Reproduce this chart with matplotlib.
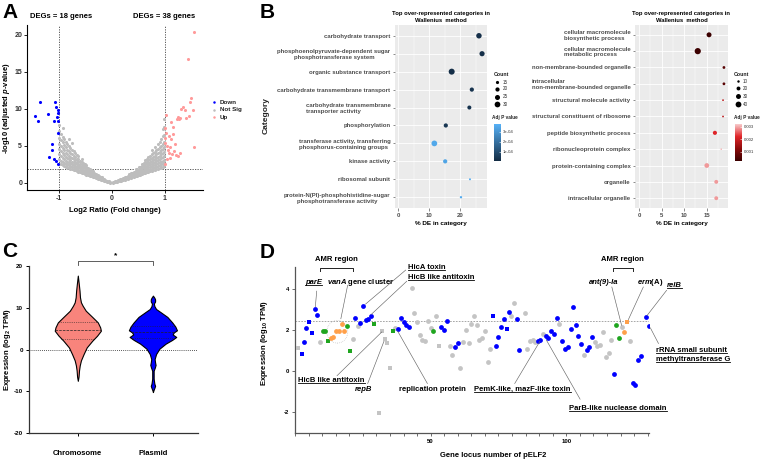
import numpy as np
import matplotlib.pyplot as plt
from matplotlib.colors import LinearSegmentedColormap, Normalize
from matplotlib.cm import ScalarMappable
from matplotlib.patches import Ellipse
from matplotlib.lines import Line2D

plt.rcParams['font.family'] = ['Liberation Sans', 'DejaVu Sans']
plt.rcParams['mathtext.fontset'] = 'custom'
plt.rcParams['mathtext.rm'] = 'Liberation Sans:bold'
plt.rcParams['mathtext.it'] = 'Liberation Sans:italic:bold'
plt.rcParams['mathtext.bf'] = 'Liberation Sans:bold'
plt.rcParams['axes.unicode_minus'] = False

# ---------------- panel A: volcano ----------------
down_x = [-1.36, -1.08, -1.20, -1.45, -1.40, -1.06, -1.01, -1.01, -1.10,
          -1.04, -1.01, -1.02, -1.12, -1.12, -1.19, -1.09, -1.06, -1.01]
down_y = [11.0, 11.0, 9.3, 9.0, 8.4, 10.2, 9.8, 9.5, 8.4,
          8.9, 8.4, 6.8, 5.3, 4.4, 3.5, 3.2, 3.0, 2.5]
up_x = [1.55, 1.44, 1.50, 1.48, 1.53, 1.35, 1.30, 1.38, 1.45, 1.40, 1.24, 1.26, 1.23,
        1.28, 1.02, 1.11, 1.16, 1.01, 1.03, 1.07, 1.12, 1.00, 1.05, 1.55, 1.09, 1.08,
        1.13, 1.18, 1.25, 1.21, 1.28, 1.10, 1.04, 1.00, 1.01, 1.06, 1.20, 1.15]
up_y = [20.4, 16.8, 11.5, 10.9, 9.8, 10.2, 10.0, 9.9, 9.0, 8.8, 8.9, 8.7, 8.6,
        8.8, 9.2, 8.3, 7.5, 7.4, 6.8, 6.4, 5.9, 5.4, 5.0, 4.8, 4.8, 4.1,
        3.9, 4.3, 3.7, 3.8, 4.1, 3.4, 3.2, 2.6, 6.1, 4.5, 5.2, 6.6]
# not significant genes, grouped by fold change column
gray_left = [
    (-0.99, [2.6, 3.2, 3.9, 4.6, 5.3, 6.1, 7.0, 7.9]),
    (-0.96, [2.5, 3.0, 3.6, 4.3, 5.0, 5.8, 6.6]),
    (-0.93, [2.4, 2.8, 3.4, 4.0, 4.7, 5.5, 6.2, 7.4]),
    (-0.90, [2.3, 2.7, 3.2, 3.8, 4.4, 5.1, 5.9]),
    (-0.87, [2.2, 2.6, 3.0, 3.5, 4.1, 4.8, 5.6]),
    (-0.84, [2.1, 2.5, 2.9, 3.4, 3.9, 4.5, 5.3]),
    (-0.81, [2.0, 2.4, 2.8, 3.2, 3.7, 4.3, 5.0, 6.0]),
    (-0.78, [1.9, 2.3, 2.7, 3.1, 3.5, 4.1, 4.7]),
    (-0.75, [1.85, 2.2, 2.5, 2.9, 3.4, 3.9, 4.5, 5.4]),
    (-0.72, [1.8, 2.1, 2.4, 2.8, 3.2, 3.7, 4.3]),
    (-0.69, [1.7, 2.0, 2.3, 2.7, 3.1, 3.5, 4.0]),
    (-0.66, [1.6, 1.9, 2.2, 2.5, 2.9, 3.3, 3.8]),
    (-0.63, [1.5, 1.8, 2.1, 2.4, 2.8, 3.2, 3.6]),
    (-0.60, [1.45, 1.7, 2.0, 2.3, 2.6, 3.0]),
    (-0.57, [1.35, 1.6, 1.9, 2.2, 2.5, 2.9, 3.3]),
    (-0.54, [1.3, 1.5, 1.8, 2.1, 2.4, 2.7]),
    (-0.51, [1.2, 1.45, 1.7, 2.0, 2.3, 2.6]),
    (-0.48, [1.1, 1.35, 1.6, 1.85, 2.1, 2.4]),
    (-0.45, [1.05, 1.25, 1.5, 1.75, 2.0]),
    (-0.42, [0.95, 1.15, 1.4, 1.65, 1.9]),
    (-0.39, [0.9, 1.1, 1.3, 1.5, 1.75]),
    (-0.36, [0.8, 1.0, 1.2, 1.4, 1.6]),
    (-0.33, [0.75, 0.9, 1.1, 1.3]),
    (-0.30, [0.65, 0.8, 1.0, 1.2]),
    (-0.27, [0.6, 0.75, 0.9, 1.05]),
    (-0.24, [0.5, 0.65, 0.8, 0.95]),
    (-0.21, [0.45, 0.55, 0.7, 0.85]),
    (-0.18, [0.35, 0.5, 0.6, 0.75]),
    (-0.15, [0.3, 0.4, 0.5]),
    (-0.12, [0.22, 0.32, 0.42]),
    (-0.09, [0.16, 0.24, 0.32]),
    (-0.06, [0.1, 0.16, 0.22]),
    (-0.03, [0.05, 0.1]),
]
gray_right = [
    (0.03, [0.05, 0.1]),
    (0.06, [0.1, 0.16, 0.22]),
    (0.09, [0.15, 0.22, 0.3]),
    (0.12, [0.2, 0.3, 0.4]),
    (0.15, [0.28, 0.38, 0.5]),
    (0.18, [0.33, 0.45, 0.6]),
    (0.21, [0.4, 0.52, 0.68]),
    (0.24, [0.46, 0.6, 0.78]),
    (0.27, [0.52, 0.68, 0.85]),
    (0.30, [0.6, 0.75, 0.95]),
    (0.33, [0.66, 0.82, 1.0, 1.2]),
    (0.36, [0.72, 0.9, 1.1, 1.3]),
    (0.39, [0.8, 0.98, 1.2, 1.4]),
    (0.42, [0.85, 1.05, 1.3, 1.5]),
    (0.45, [0.92, 1.12, 1.35, 1.6, 1.85]),
    (0.48, [1.0, 1.2, 1.45, 1.7, 1.95]),
    (0.51, [1.05, 1.3, 1.55, 1.8, 2.1]),
    (0.54, [1.12, 1.38, 1.65, 1.9, 2.2]),
    (0.57, [1.2, 1.45, 1.7, 2.0, 2.3, 2.6]),
    (0.60, [1.3, 1.55, 1.8, 2.1, 2.4, 2.7]),
    (0.63, [1.35, 1.6, 1.9, 2.2, 2.5, 2.8, 3.1]),
    (0.66, [1.42, 1.7, 2.0, 2.3, 2.6, 2.9, 3.3]),
    (0.69, [1.5, 1.8, 2.1, 2.4, 2.7, 3.1, 3.5]),
    (0.72, [1.6, 1.9, 2.2, 2.5, 2.9, 3.3, 3.7]),
    (0.75, [1.65, 1.95, 2.3, 2.6, 3.0, 3.4, 3.9, 4.4]),
    (0.78, [1.75, 2.05, 2.4, 2.75, 3.1, 3.5, 4.0]),
    (0.81, [1.8, 2.1, 2.45, 2.85, 3.25, 3.7, 4.2, 4.8]),
    (0.84, [1.9, 2.2, 2.55, 2.95, 3.4, 3.9, 4.4]),
    (0.87, [1.95, 2.3, 2.65, 3.05, 3.5, 4.0, 4.6, 5.3]),
    (0.90, [2.05, 2.4, 2.8, 3.2, 3.7, 4.2, 4.8, 5.6]),
    (0.93, [2.1, 2.5, 2.9, 3.35, 3.85, 4.4, 5.0, 6.0]),
    (0.96, [2.2, 2.6, 3.0, 3.5, 4.0, 4.6, 5.3, 6.4, 7.3]),
    (0.99, [2.3, 2.7, 3.1, 3.6, 4.2, 4.8, 5.6, 6.5, 7.6, 8.6]),
]
padj_cut = 1.85

# ---------------- panel B: GO enrichment ----------------
go_bac_terms = ["carbohydrate transport",
                "phosphoenolpyruvate-dependent sugar\nphosphotransferase system",
                "organic substance transport",
                "carbohydrate transmembrane transport",
                "carbohydrate transmembrane\ntransporter activity",
                "phosphorylation",
                "transferase activity, transferring\nphosphorus-containing groups",
                "kinase activity",
                "ribosomal subunit",
                "protein-N(PI)-phosphohistidine-sugar\nphosphotransferase activity"]
go_bac_pct = [26.1, 27.1, 17.3, 23.8, 23.0, 15.4, 11.7, 15.2, 23.2, 20.3]
go_bac_count = [28, 26, 32, 20, 19, 20, 30, 20, 11, 12]
go_bac_padj = [2e-5, 2e-5, 1.5e-5, 3e-5, 3e-5, 4e-5, 3.5e-4, 3.4e-4, 3.6e-4, 3.6e-4]

go_euk_terms = ["cellular macromolecule\nbiosynthetic process",
                "cellular macromolecule\nmetabolic process",
                "non-membrane-bounded organelle",
                "intracellular\nnon-membrane-bounded organelle",
                "structural molecule activity",
                "structural constituent of ribosome",
                "peptide biosynthetic process",
                "ribonucleoprotein complex",
                "protein-containing complex",
                "organelle",
                "intracellular organelle"]
go_euk_pct = [15.5, 13.0, 18.8, 18.8, 18.6, 18.6, 16.8, 18.2, 15.0, 17.1, 17.1]
go_euk_count = [30, 45, 12, 12, 7, 7, 22, 6, 28, 20, 20]
go_euk_padj = [2.8e-4, 3.0e-4, 6.5e-4, 6.5e-4, 1.8e-3, 1.8e-3, 2.2e-3, 3.0e-3, 2.9e-3, 2.9e-3, 2.9e-3]

# ---------------- panel C: violin outlines (log2 TPM, relative density) ----------------
chrom_y = [-7.5, -6.5, -5.0, -3.8, -2.6, -1.1, 0.5, 2.1, 3.3, 4.5, 5.3, 6.5, 7.8, 9.3,
           10.5, 11.3, 12.5, 14.1, 15.7, 17.7]
chrom_w = [0.0, 0.03, 0.05, 0.08, 0.13, 0.24, 0.37, 0.60, 0.80, 0.96, 0.93, 0.83, 0.60,
           0.33, 0.20, 0.13, 0.09, 0.07, 0.04, 0.0]
plasmid_y = [-10.2, -9.8, -9.2, -8.7, -8.2, -7.0, -5.1, -4.3, -3.7, -3.1, -2.3, -1.1, 0.2,
             1.4, 2.3, 3.0, 3.6, 4.1, 4.6, 5.5, 6.5, 7.8, 8.9, 9.7, 10.4, 11.0, 11.5,
             12.0, 12.4, 12.9]
plasmid_w = [0.0, 0.02, 0.06, 0.09, 0.06, 0.03, 0.03, 0.08, 0.11, 0.09, 0.07, 0.13, 0.27,
             0.53, 0.80, 0.97, 0.82, 0.87, 1.0, 0.93, 0.80, 0.60, 0.33, 0.13, 0.06, 0.04,
             0.09, 0.09, 0.06, 0.0]
chrom_quart = [2.6, 4.7, 6.7]
plasmid_quart = [2.8, 4.3, 5.6]

# ---------------- panel D: pELF2 gene expression ----------------
locus = [1.0, 2.4, 3.2, 4.2, 5.3, 6.2, 7.2, 8.2, 9.3, 10.2,
         11.1, 12.2, 13.1, 14.1, 15.1, 16.1, 17.2, 18.1, 19.1, 20.2,
         21.2, 22.2, 23.1, 24.0, 25.0, 26.0, 27.0, 28.0, 29.0, 31.0,
         32.0, 33.0, 34.0, 35.0, 36.0, 37.0, 38.0, 39.0, 40.0, 41.0,
         42.0, 43.0, 44.0, 45.0, 46.0, 47.0, 48.0, 49.0, 50.0, 51.0,
         52.0, 53.0, 54.0, 55.0, 56.0, 57.0, 58.0, 59.0, 60.0, 61.0,
         62.0, 63.0, 64.0, 65.0, 66.0, 67.0, 68.0, 69.0, 70.0, 71.0,
         72.0, 73.0, 74.0, 75.0, 76.0, 77.0, 78.0, 78.8, 79.8, 80.8,
         81.7, 82.7, 84.7, 85.7, 86.7, 87.6, 88.6, 89.5, 90.4, 91.4,
         92.4, 93.4, 94.5, 95.5, 96.7, 97.5, 98.6, 99.6, 100.6, 101.6,
         102.6, 103.6, 104.5, 105.5, 106.6, 107.5, 108.5, 109.4, 110.5, 111.5,
         112.5, 113.5, 114.6, 115.6, 116.5, 117.5, 118.5, 119.5, 120.6, 121.4,
         122.4, 123.5, 124.5, 125.5, 126.5, 127.4, 129.4, 130.4]
log_tpm = [1.10, 0.81, 1.39, 2.07, 2.39, 1.87, 3.00, 2.74, 1.42, 1.94,
           1.95, 1.47, 1.61, 1.66, 1.97, 1.97, 2.27, 1.94, 2.21, 0.98,
           1.57, 2.58, 2.21, 2.34, 3.15, 2.47, 2.55, 2.69, 2.31, -2.05,
           1.95, 1.54, 1.37, 0.13, 1.94, 2.11, 2.02, 2.58, 2.37, 2.23,
           2.15, 4.04, 2.83, 2.36, 1.75, 1.52, 1.46, 2.42, 2.11, 1.94,
           2.69, 1.21, 2.14, 1.99, 2.42, 1.22, 0.78, 1.17, 1.35, 0.14,
           1.41, 1.98, 1.38, 2.31, 2.67, 2.23, 1.50, 1.61, 1.96, 0.43,
           1.07, 2.65, 1.21, 1.65, 2.15, 2.55, 2.05, 2.87, 2.68, 3.29,
           2.55, 1.02, 2.84, 1.05, 1.45, 1.50, 1.39, 1.48, 1.50, 1.78,
           1.71, 1.61, 1.94, 1.82, 2.58, 2.27, 1.44, 1.07, 1.18, 2.03,
           3.12, 2.26, 1.71, 1.31, 0.76, 1.03, 1.18, 1.65, 1.40, 1.23,
           1.27, 1.89, 0.69, 0.90, 1.49, -0.16, 2.24, 1.60, 2.15, 1.90,
           2.39, 1.47, -0.57, -0.66, 0.52, 0.73, 2.61, 2.19]
# g = other, b = blue class, G = green class, o = AMR gene
gene_class = ['g', 'b', 'b', 'b', 'b', 'b', 'b', 'b', 'g', 'G',
              'G', 'G', 'o', 'o', 'o', 'o', 'o', 'o', 'G', 'G',
              'g', 'b', 'g', 'b', 'b', 'b', 'b', 'b', 'G', 'g',
              'g', 'g', 'g', 'g', 'G', 'g', 'b', 'b', 'b', 'b',
              'b', 'g', 'g', 'g', 'g', 'g', 'g', 'g', 'g', 'G',
              'g', 'g', 'b', 'b', 'b', 'g', 'g', 'b', 'b', 'g',
              'g', 'g', 'g', 'g', 'g', 'g', 'g', 'g', 'g', 'g',
              'g', 'b', 'b', 'b', 'b', 'b', 'b', 'b', 'g', 'g',
              'b', 'b', 'g', 'g', 'g', 'g', 'g', 'b', 'b', 'g',
              'b', 'b', 'b', 'b', 'b', 'g', 'b', 'b', 'b', 'b',
              'b', 'b', 'b', 'b', 'g', 'b', 'b', 'b', 'g', 'g',
              'g', 'g', 'g', 'g', 'g', 'b', 'G', 'G', 'g', 'o',
              'o', 'g', 'b', 'b', 'b', 'b', 'b', 'b']
square_loci = [1.0, 2.4, 5.3, 6.2, 12.2, 20.2, 29.0, 31.0, 32.0, 33.0, 34.0, 35.0,
               36.0, 53.0, 73.0, 78.0, 122.4]
expr_cutoff = 2.42

W, H = 760, 461


def box(l, t, r, b):
    return [l / W, 1 - b / H, (r - l) / W, (b - t) / H]


def ftext(x, y, s, **kw):
    return fig.text(x / W, 1 - y / H, s, **kw)


fig = plt.figure(figsize=(W / 100, H / 100), dpi=100)

# ================= A =================
axA = fig.add_axes(box(27, 25, 203, 190))
gx = [x for x, ys in gray_left + gray_right for _ in ys]
gy = [y for x, ys in gray_left + gray_right for y in ys]
axA.scatter(gx, gy, s=5, c='#BDBDBD', lw=0, zorder=2)
axA.scatter(down_x, down_y, s=5, c='#0000FF', lw=0, zorder=3)
axA.scatter(up_x, up_y, s=5, c='#FF9A9A', lw=0, zorder=3)
for v in (-1, 1):
    axA.axvline(v, color='#444444', lw=0.6, ls=(0, (1.5, 1.5)), zorder=1)
axA.axhline(padj_cut, color='#444444', lw=0.6, ls=(0, (1.5, 1.5)), zorder=1)
axA.set_xlim(-1.6, 1.72)
axA.set_ylim(-0.95, 21.35)
axA.set_xticks([-1, 0, 1])
axA.set_yticks([0, 5, 10, 15, 20])
for s in ('top', 'right'):
    axA.spines[s].set_visible(False)
for s in ('left', 'bottom'):
    axA.spines[s].set_linewidth(0.8)
axA.tick_params(labelsize=5, length=2, width=0.6, pad=1.5)
for lab in axA.get_xticklabels() + axA.get_yticklabels():
    lab.set_fontweight('bold')
    lab.set_color('#333333')
axA.set_xlabel('Log2 Ratio (Fold change)', fontsize=5.5, fontweight='bold', labelpad=4)
ftext(7, 108, '-log10 (adjusted $p$-value)', fontsize=5.5, fontweight='bold', rotation=90,
      ha='center', va='center')
ftext(61, 16, 'DEGs = 18 genes', fontsize=5.5, fontweight='bold', ha='center', va='center')
ftext(164, 16, 'DEGs = 38 genes', fontsize=5.5, fontweight='bold', ha='center', va='center')
for yy, lab, col in [(102, 'Down', '#0000FF'), (110, 'Not Sig', '#BDBDBD'), (117.5, 'Up', '#FF9A9A')]:
    fig.add_artist(Line2D([214 / W], [1 - yy / H], marker='o', ms=1.8, mew=0, color=col,
                          transform=fig.transFigure))
    ftext(220, yy, lab, fontsize=4.5, fontweight='bold', va='center', color='#222222')

# ================= B =================
blue_cmap = LinearSegmentedColormap.from_list('bl', ['#132B43', '#56B1F7'])
red_cmap = LinearSegmentedColormap.from_list('rd', ['#3a0000', '#8b0a0a', '#e0262a', '#f7cccc'])
blue_norm = Normalize(7e-6, 3.77e-4)
red_norm = Normalize(2.7e-4, 3.2e-3)


def dot_area(count, cmin, cmax, dmin, dmax):
    frac = (np.asarray(count, float) - cmin) / (cmax - cmin)
    d2 = dmin ** 2 + frac * (dmax ** 2 - dmin ** 2)
    return d2 / 1.389 ** 2


def go_panel(rect, terms, pct, padj, cmap, norm, area, xlim, major, minor, centered):
    ax = fig.add_axes(rect)
    n = len(terms)
    ypos = np.arange(n)[::-1] + 1
    ax.set_facecolor('#EBEBEB')
    ax.scatter(pct, ypos, s=area, c=cmap(norm(np.array(padj))), lw=0, zorder=3)
    ax.set_xlim(*xlim)
    ax.set_ylim(0.4, n + 0.6)
    ax.set_xticks(major)
    ax.set_xticks(minor, minor=True)
    ax.set_yticks(ypos)
    ax.set_yticklabels(terms)
    for i, lab in enumerate(ax.get_yticklabels()):
        lab.set_multialignment('center' if i in centered else 'left')
    ax.grid(True, which='major', color='white', lw=0.6)
    ax.grid(True, which='minor', axis='x', color='white', lw=0.3)
    ax.set_axisbelow(True)
    for s in ax.spines.values():
        s.set_visible(False)
    ax.tick_params(which='major', length=1.8, width=0.4, color='#333333', labelsize=4.3,
                   labelcolor='#4D4D4D', pad=1.5)
    ax.tick_params(which='minor', length=0)
    for lab in ax.get_xticklabels() + ax.get_yticklabels():
        lab.set_fontweight('bold')
    ax.set_xlabel('% DE in category', fontsize=4.6, fontweight='bold', labelpad=2.5)
    ax.set_title('Top over-represented categories in\nWallenius  method', fontsize=4.2,
                 fontweight='bold', pad=2.5, linespacing=1.3)
    return ax


bac_area = dot_area(go_bac_count, 11, 32, 2.0, 6.0)
euk_area = dot_area(go_euk_count, 6, 45, 1.5, 6.2)
axB1 = go_panel(box(395, 25, 487, 208), go_bac_terms, go_bac_pct, go_bac_padj,
                blue_cmap, blue_norm, bac_area, (-1.0, 28.7), [0, 10, 20], [5, 15, 25], (1, 9))
axB2 = go_panel(box(635, 25, 728, 208), go_euk_terms, go_euk_pct, go_euk_padj,
                red_cmap, red_norm, euk_area, (-0.9, 19.7), [0, 5, 10, 15], [2.5, 7.5, 12.5, 17.5], ())
ftext(266, 116, 'Category', fontsize=6, fontweight='bold', rotation=90, ha='center', va='center',
      color='#222222')


def size_legend(x0, counts, areas, ys):
    ftext(x0 - 1, 75, 'Count', fontsize=3.8, fontweight='bold', va='center', color='#222222')
    for c, a, yy in zip(counts, areas, ys):
        fig.add_artist(Line2D([(x0 + 2.5) / W], [1 - yy / H], marker='o', ms=np.sqrt(a), mew=0,
                              color='black', transform=fig.transFigure))
        ftext(x0 + 8, yy, str(c), fontsize=3.3, va='center', color='#333333')


size_legend(495, [15, 20, 25, 30], dot_area([15, 20, 25, 30], 11, 32, 2.0, 6.0), [82, 89, 96.5, 104.5])
size_legend(735, [10, 20, 30, 40], dot_area([10, 20, 30, 40], 6, 45, 1.5, 6.2), [81.5, 88.5, 96, 104])


def p_bar(x0, cmap, norm, ticks, labels):
    ftext(x0 - 1.5, 118, 'Adj P value', fontsize=3.4, fontweight='bold', va='center', color='#222222')
    cax = fig.add_axes(box(x0, 124, x0 + 6.5, 161))
    cb = fig.colorbar(ScalarMappable(norm=norm, cmap=cmap), cax=cax)
    cb.outline.set_visible(False)
    cb.set_ticks(ticks)
    cb.set_ticklabels(labels)
    cax.tick_params(length=1.5, width=0.4, color='white', direction='in', labelsize=3.1,
                    labelcolor='#333333', pad=1.5)


p_bar(494, blue_cmap, blue_norm, [1e-4, 2e-4, 3e-4], ['1e-04', '2e-04', '3e-04'])
p_bar(735, red_cmap, red_norm, [0.001, 0.002, 0.003], ['0.001', '0.002', '0.003'])

# ================= C =================
axC = fig.add_axes(box(29, 266, 198, 433))
axC.set_xlim(0.35, 2.6)
axC.set_ylim(-20, 20)
axC.axhline(0, color='#222222', lw=0.6, ls=(0, (1, 1.5)), zorder=1)
for pos, ys, ws, qs, col in [(1, chrom_y, chrom_w, chrom_quart, '#F8847C'),
                             (2, plasmid_y, plasmid_w, plasmid_quart, '#0000FF')]:
    ys = np.array(ys)
    hw = np.array(ws) * 0.32
    axC.fill_betweenx(ys, pos - hw, pos + hw, facecolor=col, edgecolor='black', lw=0.8, zorder=2)
    for i, q in enumerate(qs):
        w = np.interp(q, ys, hw)
        axC.plot([pos - w, pos + w], [q, q], color='#222222', lw=0.5,
                 ls='--' if i == 1 else ':', zorder=3)
axC.set_xticks([1, 2])
axC.set_xticklabels(['Chromosome', 'Plasmid'])
axC.set_yticks([-20, -10, 0, 10, 20])
for s in ('top', 'right'):
    axC.spines[s].set_visible(False)
for s in ('left', 'bottom'):
    axC.spines[s].set_linewidth(0.9)
    axC.spines[s].set_color('#333333')
axC.tick_params(axis='y', labelsize=4.5, length=2.5, width=0.7, pad=2)
axC.tick_params(axis='x', labelsize=5.5, length=2.5, width=0.7, pad=10)
for lab in axC.get_xticklabels() + axC.get_yticklabels():
    lab.set_fontweight('bold')
ftext(8, 350, 'Expression (log$_2$ TPM)', fontsize=5.5, fontweight='bold', rotation=90,
      ha='center', va='center')
axC.plot([1, 1, 2, 2], [20.2, 21.2, 21.2, 20.2], color='#444444', lw=0.6, clip_on=False)
axC.text(1.5, 21.6, '*', fontsize=6, fontweight='bold', ha='center', va='bottom')

# ================= D =================
axD = fig.add_axes(box(295, 267, 649, 433))
axD.set_xlim(0, 130.5)
axD.set_ylim(-3, 5.05)
colors = {'g': '#C4C4C4', 'b': '#0000FF', 'G': '#1FA51F', 'o': '#FFA04A'}
loc = np.array(locus)
val = np.array(log_tpm)
cls = np.array(gene_class)
is_sq = np.isin(loc, square_loci)
for k, col in colors.items():
    for sq in (False, True):
        m = (cls == k) & (is_sq == sq)
        axD.scatter(loc[m], val[m], s=11 if sq else 12, marker='s' if sq else 'o', c=col,
                    lw=0, zorder=3)
axD.axhline(expr_cutoff, color='#999999', lw=0.6, ls=(0, (2, 1.5)), zorder=1)
axD.add_patch(Ellipse((15.6, 1.91), 7.7, 1.1, fill=False, ec='#BBBBBB', lw=0.5, ls=':'))
axD.set_xticks([50, 100])
axD.set_xticks(np.arange(0, 131, 5), minor=True)
axD.set_yticks([-2, 0, 2, 4])
for s in ('top', 'right'):
    axD.spines[s].set_visible(False)
for s in ('left', 'bottom'):
    axD.spines[s].set_linewidth(0.9)
    axD.spines[s].set_color('#555555')
axD.tick_params(which='both', labelsize=4.3, length=2.5, width=0.6, color='#555555', pad=2)
for lab in axD.get_xticklabels() + axD.get_yticklabels():
    lab.set_fontweight('bold')
ftext(493, 455, 'Gene locus number of pELF2', fontsize=5.5, fontweight='bold', ha='center', va='center')
ftext(265, 343, 'Expression (log$_{10}$ TPM)', fontsize=5.5, fontweight='bold', ha='center',
      va='center', rotation=90)

underlined = []


def note(x, y, s, ha='center', style='normal', ul=False):
    t = axD.text(x, y, s, fontsize=5.5, fontweight='bold', fontstyle=style, ha=ha, va='center',
                 clip_on=False, zorder=5)
    if ul:
        underlined.append(t)
    return t


def leader(x0, y0, x1, y1):
    axD.plot([x0, x1], [y0, y1], color='#666666', lw=0.45, clip_on=False, zorder=4)


for xa, xb, xt in [(9.3, 21.2, 15.1), (117.4, 124.5, 120.8)]:
    axD.plot([xa, xa, xb, xb], [4.88, 5.0, 5.0, 4.88], color='#222222', lw=0.7, clip_on=False)
    note(xt, 5.42, 'AMR region')
note(7.0, 4.32, 'parE', style='italic', ul=True)
leader(8.0, 3.88, 7.5, 3.12)
note(24.2, 4.32, '$vanA$ gene cluster')
leader(19.4, 4.16, 16.9, 2.54)
note(41.5, 5.05, 'HicA toxin', ha='left', ul=True)
leader(40.8, 4.9, 26.0, 3.25)
note(41.5, 4.56, 'HicB like antitoxin', ha='left', ul=True)
leader(41.2, 4.36, 28.1, 2.75)
note(13.4, -0.43, 'HicB like antitoxin', ul=True)
leader(15.5, -0.22, 32.0, 1.9)
note(25.1, -0.89, 'repB', style='italic')
leader(26.8, -0.6, 32.8, 1.45)
note(50.6, -0.89, 'replication protein')
leader(48.8, -0.6, 37.8, 1.95)
note(83.9, -0.89, 'PemK-like, mazF-like toxin', ul=True)
leader(81.0, -0.6, 90.3, 1.45)
note(119.1, -1.81, 'ParB-like nuclease domain', ul=True)
leader(105.1, -1.36, 92.7, 1.5)
note(113.7, 4.29, 'ant(9)-Ia', style='italic')
leader(116.8, 4.08, 120.4, 2.22)
note(130.9, 4.29, '$erm$(A)')
leader(128.4, 4.08, 122.9, 2.5)
note(140.0, 4.16, 'relB', style='italic', ul=True)
leader(137.0, 3.92, 129.8, 2.7)
note(133.0, 1.0, 'rRNA small subunit', ha='left', ul=True)
note(133.0, 0.56, 'methyltransferase G', ha='left', ul=True)
leader(134.0, 1.34, 131.0, 2.1)

# panel letters
for x, y, s in [(2, 3, 'A'), (260, 3, 'B'), (2, 242, 'C'), (260, 243, 'D')]:
    ftext(x, y, s, fontsize=15, fontweight='bold', va='top', ha='left')

# underline the gene names
fig.canvas.draw()
renderer = fig.canvas.get_renderer()
inv = fig.transFigure.inverted()
for t in underlined:
    bb = t.get_window_extent(renderer)
    (xa, ya), (xb, _) = inv.transform([(bb.x0, bb.y0 + 0.6), (bb.x1, bb.y0)])
    fig.add_artist(Line2D([xa, xb], [ya, ya], lw=0.6, color='black', transform=fig.transFigure))

fig.savefig('out.png', dpi=100)
